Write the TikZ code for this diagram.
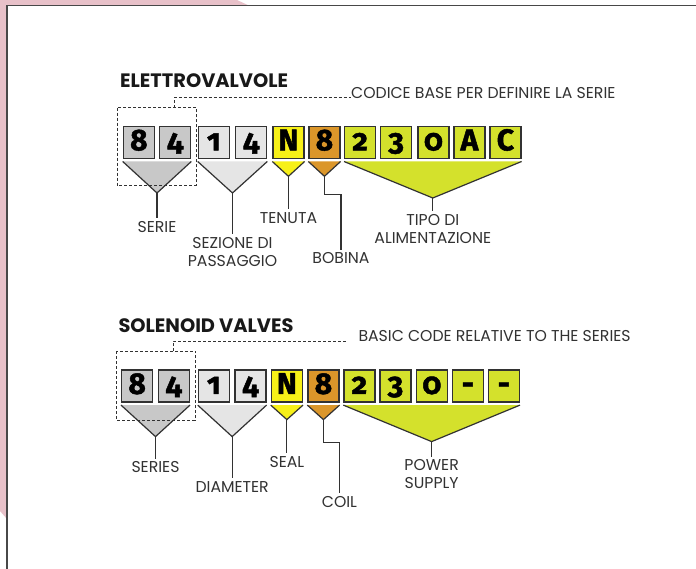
\documentclass[tikz,border=0pt]{standalone}
\usepackage{fontspec}
\setmainfont{Poppins}
\newfontfamily\digitfont[Numbers=OldStyle,BoldFeatures={FakeBold=1.6}]{Fira Sans}
\usetikzlibrary{calc}

\definecolor{backpink}{RGB}{232,193,201}
\definecolor{frameline}{RGB}{72,72,72}
\definecolor{inkgray}{RGB}{50,50,50}
\definecolor{seriesgray}{RGB}{200,200,200}
\definecolor{sizegray}{RGB}{229,229,229}
\definecolor{sealyellow}{RGB}{247,240,24}
\definecolor{coilorange}{RGB}{219,150,42}
\definecolor{powergreen}{RGB}{212,225,44}

\tikzset{
  codebox/.style={draw=inkgray,line width=1.3pt,anchor=north west,inner sep=0pt,
    minimum width=31pt,minimum height=32pt,text height=24pt,text depth=8pt,
    font=\digitfont\bfseries\fontsize{30}{30}\selectfont},
  wedgeline/.style={draw=inkgray,line width=1.2pt,line join=miter},
  leader/.style={draw=inkgray,line width=1.2pt},
  dashline/.style={draw=inkgray,line width=1pt,dash pattern=on 3pt off 2pt},
  codelabel/.style={anchor=north,align=center,inner sep=0pt,outer sep=3pt,
    text=inkgray,font=\fontsize{15.7}{18.3}\selectfont},
  notetext/.style={anchor=base west,inner sep=0pt,text=inkgray,
    font=\fontsize{15.7}{18}\selectfont},
  titletext/.style={anchor=base west,inner sep=0pt,text=black!90,
    font=\bfseries\fontsize{19.4}{19.4}\selectfont},
}

\begin{document}
\begin{tikzpicture}[x=1pt,y=-1pt]
  \useasboundingbox (0,0) rectangle (696,569);
  \clip (0,0) rectangle (696,569);

  % Pink backdrop and the sheet frame.
  \fill[backpink] (0,0) -- (237,0) -- (252,7) -- (7,7) -- (7,519) -- (0,511) -- cycle;
  \draw[frameline,line width=1.7pt,fill=white] (6.8,5.5) rectangle (720,600);

  % Elettrovalvole: code boxes, wedges and labels.
  \node[titletext] (evtitle) at (120,87.7) {ELETTROVALVOLE};
  \foreach \x/\ch/\col [count=\i] in {
      122.7/8/seriesgray, 159/4/seriesgray, 197.7/1/sizegray, 235/4/sizegray,
      272.3/N/sealyellow, 308.3/8/coilorange, 344/2/powergreen, 380/3/powergreen,
      417.3/0/powergreen, 453.3/A/powergreen, 489.3/C/powergreen} {
    \node[codebox,fill=\col] (ev\i) at (\x,125.7) {\ch};
  }
  \foreach \first/\last/\col/\dep/\name in {
      1/2/seriesgray/34/A, 3/4/sizegray/34/B, 5/5/sealyellow/17.3/C,
      6/6/coilorange/17.3/D, 7/11/powergreen/39/E} {
    \coordinate (ev\name) at ($(ev\first.south west)!.5!(ev\last.south east)+(0,\dep)$);
    \fill[\col] ([yshift=-2.5pt]ev\first.south west) -- ([yshift=-2.5pt]ev\last.south east)
      -- (ev\name) -- cycle;
    \draw[wedgeline] ([yshift=-2.5pt]ev\first.south west) -- (ev\name)
      -- ([yshift=-2.5pt]ev\last.south east);
  }
  \node[codelabel] (serie) at ($(evA)+(0,25)$) {SERIE};
  \node[codelabel] (sezione) at ($(evB)+(0,41.3)$) {SEZIONE DI\\PASSAGGIO};
  \node[codelabel] (tenuta) at ($(evC)+(0,33)$) {TENUTA};
  \node[codelabel] (bobina) at ($(evD)+(16.5,73.3)$) {BOBINA};
  \node[codelabel] (tipo) at ($(evE)+(0,13.3)$) {TIPO DI\\ALIMENTAZIONE};
  \draw[leader] (evA) -- (serie.north);
  \draw[leader] (evB) -- (sezione.north);
  \draw[leader] (evC) -- (tenuta.north);
  \draw[leader] (evD) -- ++(0,18.3) -| (bobina.north);
  \draw[leader] (evE) -- (tipo.north);

  % Dashed mark of the base code.
  \draw[dashline] ([shift={(-5.4,-18)}]ev1.north west) rectangle ([shift={(5,26.6)}]ev2.south east);
  \coordinate (evtag) at (174.3,107.7);
  \node[notetext] (evnote) at (351,99) {CODICE BASE PER DEFINIRE LA SERIE};
  \draw[dashline] (evtag) |- ([yshift=1.8pt]evnote.base west);

  % Solenoid valves: code boxes, wedges and labels.
  \node[titletext] (svtitle) at (118.3,332.7) {SOLENOID VALVES};
  \foreach \x/\ch/\col [count=\i] in {
      121/8/seriesgray, 157.7/4/seriesgray, 197.7/1/sizegray, 234.3/4/sizegray,
      270.7/N/sealyellow, 307.3/8/coilorange, 343.3/2/powergreen, 379.3/3/powergreen,
      415.7/0/powergreen, 451.7/-/powergreen, 487.7/-/powergreen} {
    \node[codebox,fill=\col] (sv\i) at (\x,369.3) {\ch};
  }
  \foreach \first/\last/\col/\dep/\name in {
      1/2/seriesgray/34/A, 3/4/sizegray/34/B, 5/5/sealyellow/17/C,
      6/6/coilorange/17/D, 7/11/powergreen/39/E} {
    \coordinate (sv\name) at ($(sv\first.south west)!.5!(sv\last.south east)+(0,\dep)$);
    \fill[\col] ([yshift=-2.5pt]sv\first.south west) -- ([yshift=-2.5pt]sv\last.south east)
      -- (sv\name) -- cycle;
    \draw[wedgeline] ([yshift=-2.5pt]sv\first.south west) -- (sv\name)
      -- ([yshift=-2.5pt]sv\last.south east);
  }
  \node[codelabel] (series) at ($(svA)+(0,22)$) {SERIES};
  \node[codelabel] (diameter) at ($(svB)+(0,41.7)$) {DIAMETER};
  \node[codelabel] (seal) at ($(svC)+(0,33.4)$) {SEAL};
  \node[codelabel] (coil) at ($(svD)+(16,73.4)$) {COIL};
  \node[codelabel] (power) at ($(svE)+(0,15)$) {POWER\\SUPPLY};
  \draw[leader] (svA) -- (series.north);
  \draw[leader] (svB) -- (diameter.north);
  \draw[leader] (svC) -- (seal.north);
  \draw[leader] (svD) -- ++(0,22.7) -| (coil.north);
  \draw[leader] (svE) -- (power.north);

  % Dashed mark of the base code.
  \draw[dashline] ([shift={(-4.3,-18.3)}]sv1.north west) rectangle ([shift={(5.3,17.7)}]sv2.south east);
  \coordinate (svtag) at (173.3,351);
  \node[notetext] (svnote) at (358.3,341.7) {BASIC CODE RELATIVE TO THE SERIES};
  \draw[dashline] (svtag) |- ([shift={(-11.6,-0.7)}]svnote.base west);
\end{tikzpicture}
\end{document}
